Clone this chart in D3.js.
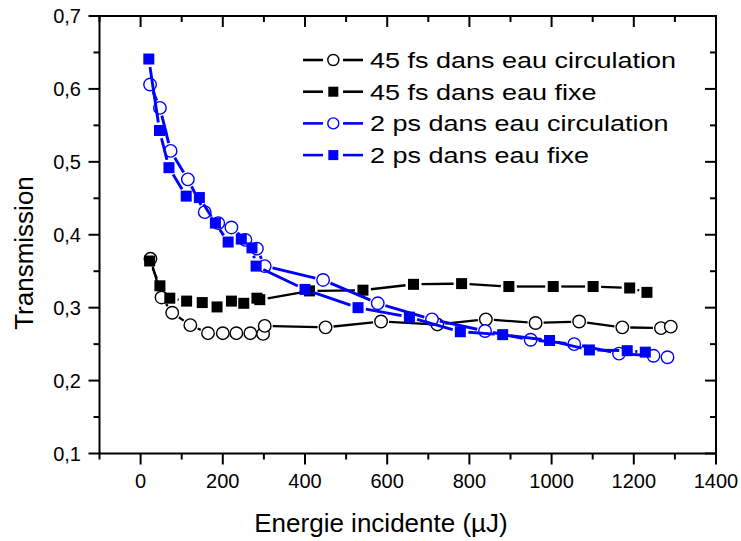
<!DOCTYPE html>
<html><head><meta charset="utf-8">
<script src="https://cdn.jsdelivr.net/npm/d3@7"></script>
<style>body{margin:0;background:#fff}svg{display:block}text{font-family:"Liberation Sans",Arial,sans-serif}</style>
</head><body><svg id="c" width="741" height="541"></svg>
<script>
// ---- data ----
const fs45CircX = [24, 51, 77, 121, 164, 200, 233, 267, 298, 302, 450, 585, 722, 840, 961, 1067, 1172, 1266, 1290];
const fs45CircY = [0.367, 0.314, 0.293, 0.276, 0.265, 0.265, 0.265, 0.265, 0.264, 0.275, 0.273, 0.281, 0.277, 0.284, 0.279, 0.281, 0.273, 0.272, 0.274];
const fs45FixX = [22, 47, 71, 112, 150, 186, 221, 251, 283, 290, 411, 541, 664, 781, 896, 1004, 1101, 1190, 1232];
const fs45FixY = [0.364, 0.330, 0.313, 0.309, 0.307, 0.301, 0.309, 0.306, 0.313, 0.311, 0.323, 0.324, 0.332, 0.333, 0.329, 0.329, 0.329, 0.327, 0.321];
const ps2CircX = [23, 47, 73, 115, 156, 189, 221, 255, 283, 302, 444, 577, 709, 838, 949, 1055, 1164, 1248, 1282];
const ps2CircY = [0.606, 0.574, 0.515, 0.476, 0.431, 0.416, 0.410, 0.393, 0.381, 0.357, 0.338, 0.306, 0.284, 0.268, 0.256, 0.250, 0.237, 0.234, 0.232];
const ps2FixX = [20, 46, 69, 111, 143, 182, 213, 245, 271, 281, 400, 529, 654, 778, 881, 995, 1092, 1184, 1228];
const ps2FixY = [0.641, 0.543, 0.492, 0.453, 0.451, 0.416, 0.390, 0.394, 0.382, 0.357, 0.325, 0.300, 0.287, 0.267, 0.263, 0.255, 0.242, 0.241, 0.239];
const seriesNames = ["45 fs dans eau circulation", "45 fs dans eau fixe", "2 ps dans eau circulation", "2 ps dans eau fixe"];
const xTickValues = [0, 200, 400, 600, 800, 1000, 1200, 1400];
const yTickValues = [0.1, 0.2, 0.3, 0.4, 0.5, 0.6, 0.7];
const xTitle = "Energie incidente (µJ)";
const yTitle = "Transmission";

const series = [
  {name: seriesNames[0], xs: fs45CircX, ys: fs45CircY, color: "#000", shape: "circle", lw: 2.3},
  {name: seriesNames[1], xs: fs45FixX, ys: fs45FixY, color: "#000", shape: "square", lw: 2.3},
  {name: seriesNames[2], xs: ps2CircX, ys: ps2CircY, color: "#0000ff", shape: "circle", lw: 2.9},
  {name: seriesNames[3], xs: ps2FixX, ys: ps2FixY, color: "#0000ff", shape: "square", lw: 2.9}
];

const svg = d3.select("#c");
const L = 99.5, R = 716, T = 16, B = 453.5;
const x = d3.scaleLinear().domain([-100, 1400]).range([L, R]);
const y = d3.scaleLinear().domain([0.1, 0.7]).range([B, T]);

// ---- axes ----
const fmtY = d => d3.format(".1f")(d).replace(".", ",");
const xMinor = d3.range(-100, 1401, 100);
const yMinor = d3.range(0.1, 0.7001, 0.05);
function tickLen(v, majors, M, m) { return majors.some(t => Math.abs(t - v) < 1e-6) ? M : m; }

const ax = svg.append("g").attr("stroke", "#000").attr("stroke-width", 2);
xMinor.forEach(v => {
  const len = tickLen(v, xTickValues, 11, 6);
  ax.append("line").attr("x1", x(v)).attr("x2", x(v)).attr("y1", B).attr("y2", B + len);
  ax.append("line").attr("x1", x(v)).attr("x2", x(v)).attr("y1", T).attr("y2", T + len);
});
yMinor.forEach(v => {
  const len = tickLen(v, yTickValues, 11, 6);
  ax.append("line").attr("y1", y(v)).attr("y2", y(v)).attr("x1", L).attr("x2", L - len);
  ax.append("line").attr("y1", y(v)).attr("y2", y(v)).attr("x1", R).attr("x2", R - len);
});
ax.append("rect").attr("x", L).attr("y", T).attr("width", R - L).attr("height", B - T).attr("fill", "none");

svg.append("g").selectAll("text").data(xTickValues).join("text")
  .attr("x", d => x(d)).attr("y", 488).attr("text-anchor", "middle")
  .attr("font-size", 20).attr("fill", "#000").text(d => d);
svg.append("g").selectAll("text").data(yTickValues).join("text")
  .attr("x", 81).attr("y", d => y(d) + 7).attr("text-anchor", "end")
  .attr("font-size", 20).attr("fill", "#000").text(fmtY);

svg.append("text").attr("x", 381).attr("y", 532).attr("text-anchor", "middle")
  .attr("font-size", 26).attr("fill", "#000").text(xTitle);
svg.append("text").attr("transform", "translate(33,253) rotate(-90)").attr("text-anchor", "middle")
  .attr("font-size", 26).attr("fill", "#000").text(yTitle);

// ---- plot ----
const plot = svg.append("g");
function drawMarker(g, shape, cx, cy, color, size) {
  if (shape === "square") {
    g.append("rect").attr("x", cx - size / 2).attr("y", cy - size / 2).attr("width", size).attr("height", size)
      .attr("fill", color);
  } else {
    g.append("circle").attr("cx", cx).attr("cy", cy).attr("r", size / 2)
      .attr("fill", "#fff").attr("stroke", color).attr("stroke-width", 1.4);
  }
}
series.forEach(s => {
  const g = plot.append("g");
  const pts = s.xs.map((v, i) => [x(v), y(s.ys[i])]);
  const gap = 8;
  for (let i = 0; i < pts.length - 1; i++) {
    const [x1, y1] = pts[i], [x2, y2] = pts[i + 1];
    const d = Math.hypot(x2 - x1, y2 - y1);
    if (d <= 2 * gap) continue;
    const ux = (x2 - x1) / d, uy = (y2 - y1) / d;
    g.append("line").attr("x1", x1 + ux * gap).attr("y1", y1 + uy * gap)
      .attr("x2", x2 - ux * gap).attr("y2", y2 - uy * gap)
      .attr("stroke", s.color).attr("stroke-width", s.lw);
  }
  pts.forEach(p => drawMarker(g, s.shape, p[0], p[1], s.color, s.shape === "square" ? 11 : 12.5));
});

// ---- legend ----
const lg = svg.append("g");
series.forEach((s, i) => {
  const cy = 60 + i * 31.7;
  lg.append("line").attr("x1", 303).attr("x2", 323).attr("y1", cy).attr("y2", cy).attr("stroke", s.color).attr("stroke-width", 2.6);
  lg.append("line").attr("x1", 343).attr("x2", 363).attr("y1", cy).attr("y2", cy).attr("stroke", s.color).attr("stroke-width", 2.6);
  drawMarker(lg, s.shape, 333.3, cy, s.color, s.shape === "square" ? 10 : 11);
  lg.append("text").attr("transform", `translate(370,${cy + 7.8}) scale(1.2,1)`)
    .attr("font-size", 22.5).attr("fill", "#000").text(s.name);
});
</script></body></html>
